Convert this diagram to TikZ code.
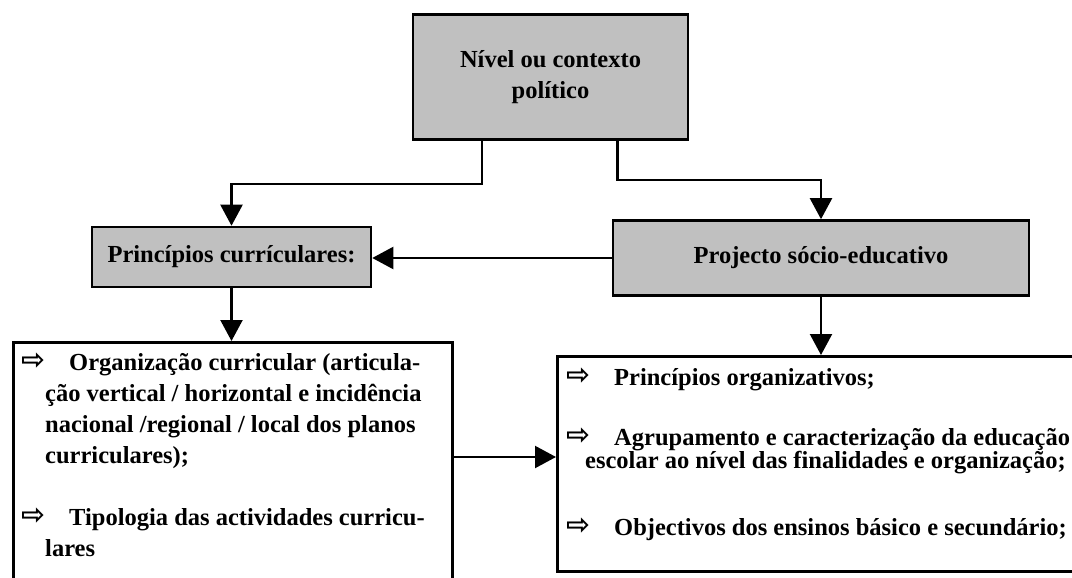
\documentclass[tikz,border=0pt]{standalone}
\usepackage{fontspec}
\setmainfont{Liberation Serif}
\newfontfamily\symfam{DejaVu Sans}
\usetikzlibrary{arrows.meta,calc}
\definecolor{boxgray}{HTML}{C0C0C0}
\newcommand\mytxt{\fontsize{24.5}{31}\selectfont\bfseries}
\newcommand\myarrow{\scalebox{1.3}{\symfam\bfseries\fontsize{22}{26}\selectfont ⇨}}
\begin{document}
\begin{tikzpicture}[x=1pt,y=-1pt,
  graybox/.style={draw, line width=2.6pt, fill=boxgray, inner sep=0pt, align=center, font=\mytxt},
  whitebox/.style={draw, line width=2.6pt, fill=white, inner sep=0pt},
  arr/.style={line width=2.2pt, -{Triangle[length=21pt,width=22pt]}},
  txt/.style={anchor=base west, inner sep=0pt, font=\mytxt},
  sym/.style={anchor=base west, inner sep=0pt}]
\path[use as bounding box] (0,0) rectangle (1072,578);
\clip (0,0) rectangle (1072,578);
% boxes
\node[graybox, minimum width=275pt, minimum height=125pt] (top) at (550.5,77) {Nível ou contexto\\político};
\node[graybox, minimum width=279pt, minimum height=60pt] (princ) at (231.5,257) {Princípios currículares:};
\node[graybox, minimum width=416pt, minimum height=75pt] (proj) at (821,258) {Projecto sócio-educativo};
\node[whitebox, anchor=north west, minimum width=439pt, minimum height=300pt] (lbox) at (12,341) {};
\node[whitebox, anchor=north west, minimum width=560pt, minimum height=215pt] (rbox) at (556,355) {};
% left box text
\node[sym] (la1) at (21,369) {\myarrow};
\node[txt] (l1) at (69,370) {Organização curricular (articula-};
\node[txt] (l2) at (45,401) {ção vertical / horizontal e incidência};
\node[txt] (l3) at (45,432) {nacional /regional / local dos planos};
\node[txt] (l4) at (45,463) {curriculares);};
\node[sym] (la2) at (21,524) {\myarrow};
\node[txt] (l5) at (69,525) {Tipologia das actividades curricu-};
\node[txt] (l6) at (45,556) {lares};
% right box text
\node[sym] (ra1) at (566,384) {\myarrow};
\node[txt] (r1) at (614,385) {Princípios organizativos;};
\node[sym] (ra2) at (566,444) {\myarrow};
\node[txt] (r2) at (614,445) {Agrupamento e caracterização da educação};
\node[txt] (r3) at (585,468) {escolar ao nível das finalidades e organização;};
\node[sym] (ra3) at (566,534) {\myarrow};
\node[txt] (r4) at (614,535) {Objectivos dos ensinos básico e secundário;};
% connectors
\coordinate (mid) at (0,457);
\draw[arr] ([xshift=-68.5pt]top.south) -- ++(0,43) -| (princ.north);
\draw[arr] ([xshift=67pt]top.south) -- ++(0,39.5) -| (proj.north);
\draw[arr] (proj.west) -- (proj.west -| princ.east);
\draw[arr] (princ.south) -- (princ.south |- lbox.north);
\draw[arr] (proj.south) -- (proj.south |- rbox.north);
\draw[arr] (lbox.east |- mid) -- (rbox.west |- mid);
\end{tikzpicture}
\end{document}
